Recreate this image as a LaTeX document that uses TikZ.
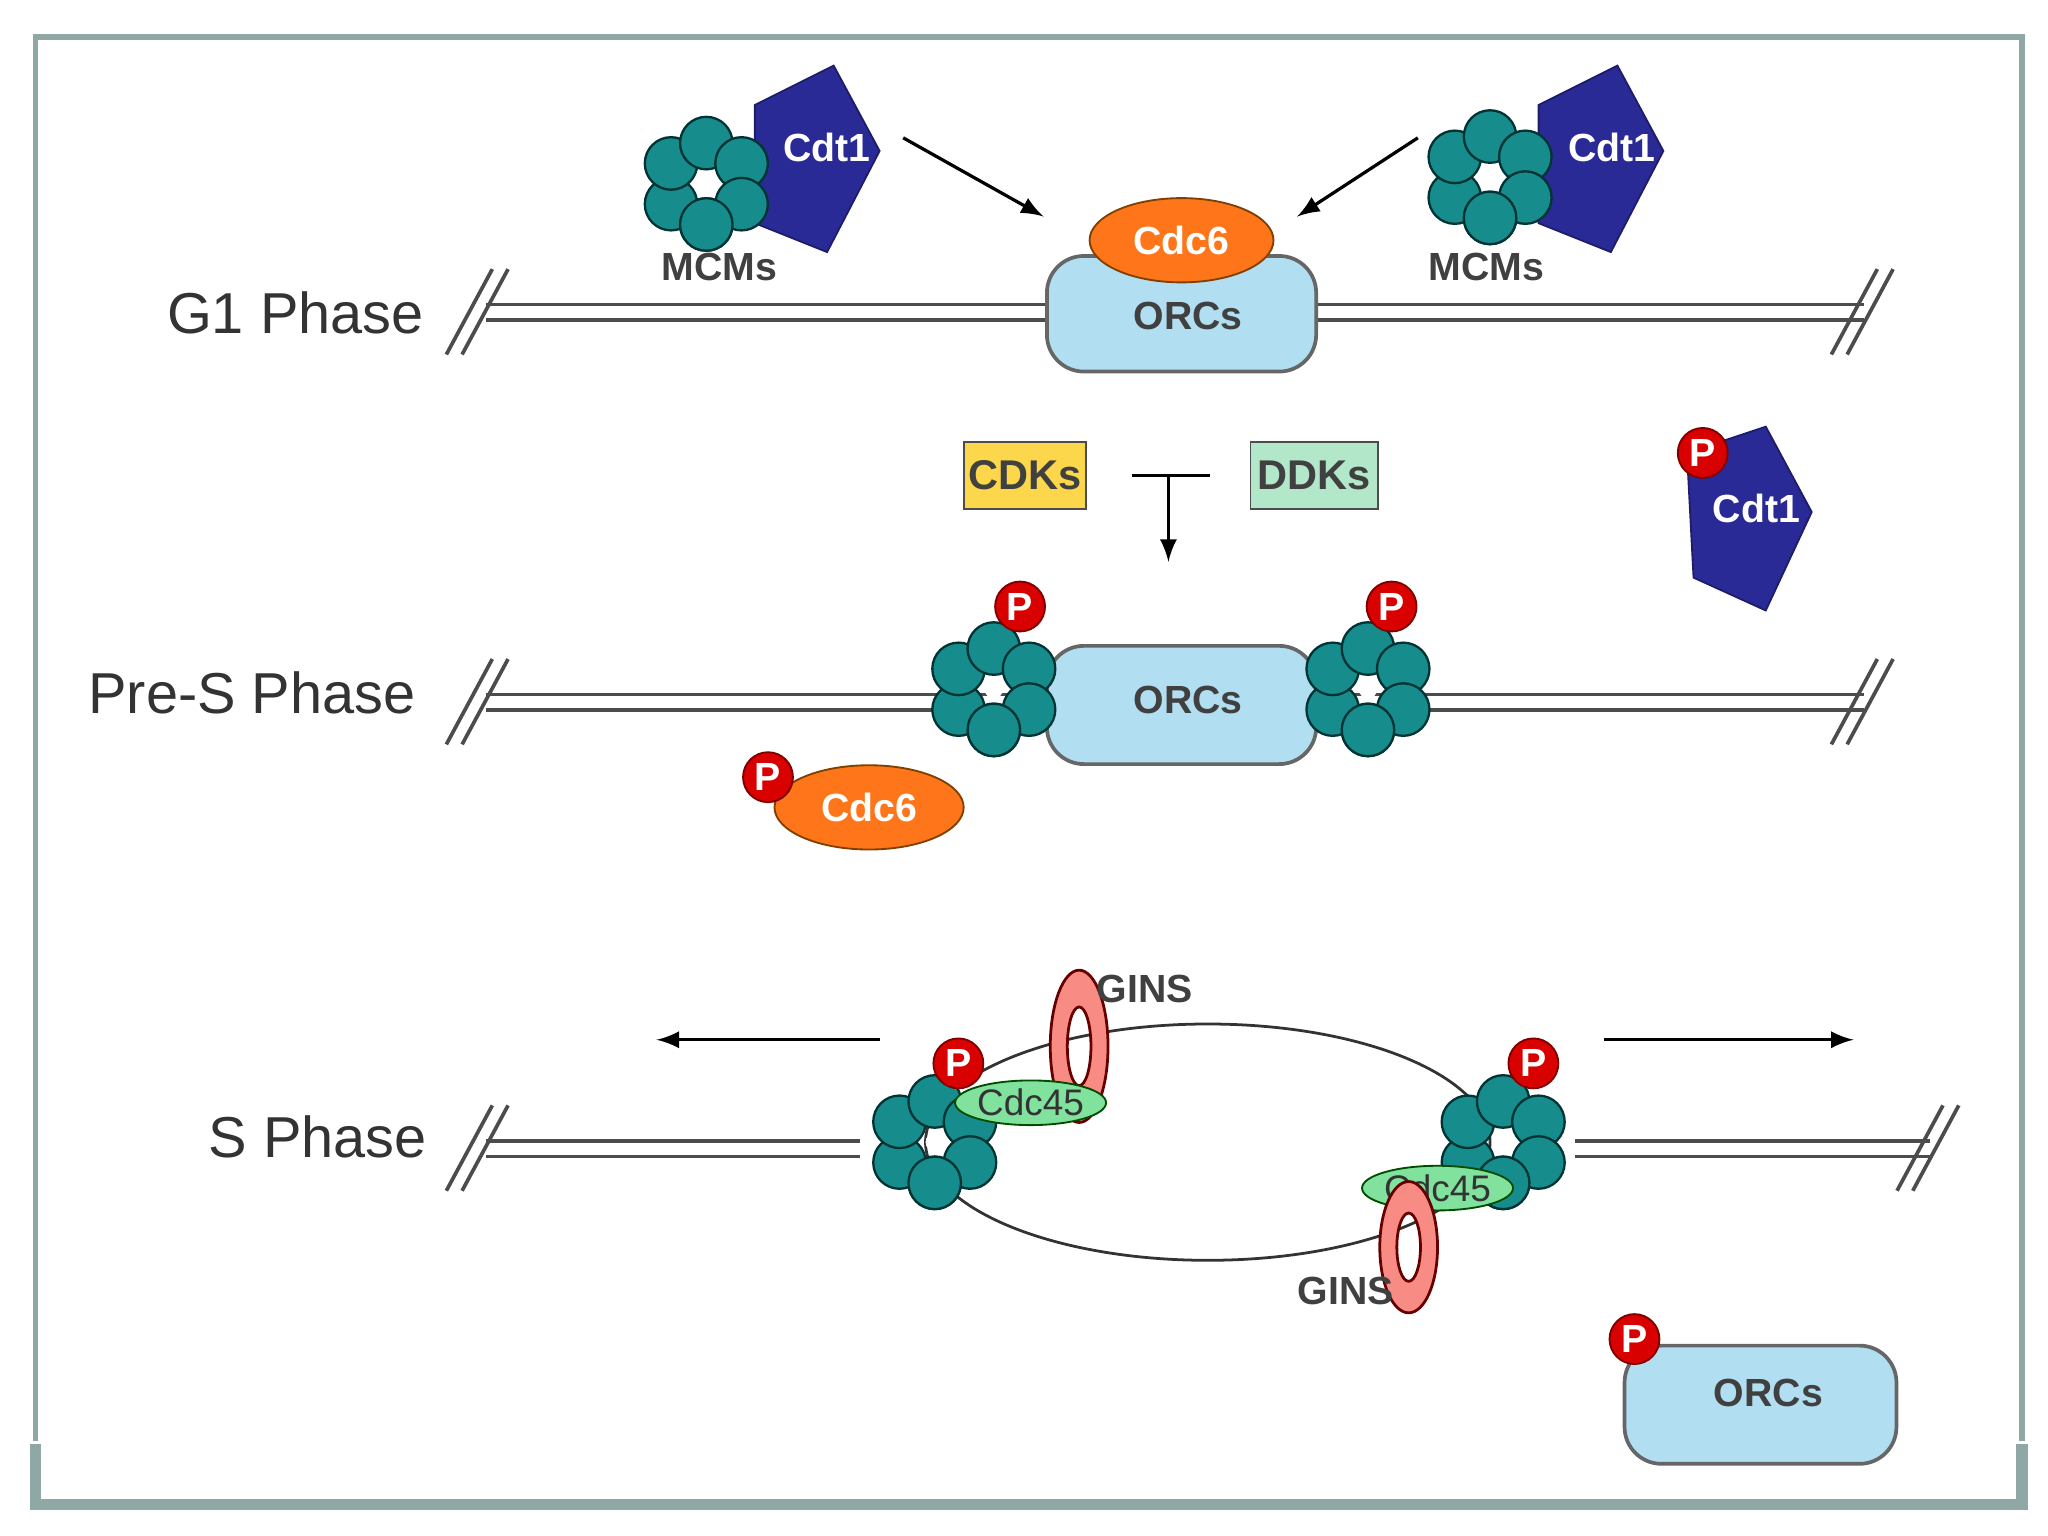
\documentclass[tikz,border=0pt]{standalone}
\usepackage{fontspec}
\setmainfont{Liberation Sans}
\usetikzlibrary{shapes.geometric}
\definecolor{mcmc}{HTML}{178C8C}
\definecolor{cdtc}{HTML}{2A2A96}
\definecolor{frm}{HTML}{8FA8A6}
\begin{document}
\begin{tikzpicture}[x=0.01cm,y=-0.01cm,
  dna/.style={double=white,draw=black!70,line width=0.7pt,double distance=2.6pt},
  sl/.style={black!70,line width=0.8pt},
  orc/.style={draw=black!60,fill=cyan!25!white!90!teal,rounded corners=8pt,line width=0.8pt},
  lab/.style={font=\fontsize{8.5}{10}\selectfont\bfseries,text=black!75},
  phase/.style={font=\fontsize{12.5}{15}\selectfont,text=black!80},
  ptag/.style={circle,fill=red!85!black,draw=red!50!black,minimum size=0.38cm,inner sep=0pt,font=\fontsize{8.5}{10}\selectfont\bfseries,text=white},
  cdt/.style={fill=cdtc,draw=cdtc!70!black},
  wt/.style={font=\fontsize{8.5}{10}\selectfont\bfseries,text=white},
  c45/.style={ellipse,fill=green!55!teal!50!white,draw=green!30!black,minimum width=0.95cm,minimum height=0.34cm,inner sep=0pt,font=\fontsize{8}{10}\selectfont,text=black!80},
  arr/.style={-latex,line width=0.7pt},
  pics/mcm/.style={code={
    \foreach \a in {90,150,...,450}{\draw[fill=mcmc,draw=teal!40!black,line width=0.5pt] (\a:31) circle[radius=20];}
    \fill[white] (0,0) circle[radius=7];}}]
\useasboundingbox (0,0) rectangle (1560,1170);
% frame
\draw[draw=frm,line width=1.2pt] (27,1098) -- (27,28) -- (1540,28) -- (1540,1098);
\draw[draw=frm,line width=2.5pt] (27,1100) -- (27,1146) -- (1540,1146) -- (1540,1100);
% ===== G1 =====
\node[phase] (g1) at (225,238) {G1 Phase};
\draw[dna] (370,238) -- (1420,238);
\foreach \x in {340,352}{\draw[sl] (\x,270) -- (\x+35,205);}
\foreach \x in {1395,1407}{\draw[sl] (\x,270) -- (\x+35,205);}
\node[orc,minimum width=2.05cm,minimum height=0.88cm] (orc1) at (900,239) {};
\node[lab] at (905,241) {ORCs};
\node[ellipse,fill=orange!80!red!90,draw=orange!50!black,minimum width=1.4cm,minimum height=0.6cm,wt] (cdc6a) at (900,183) {Cdc6};
\draw[cdt] (575,80) -- (635,50) -- (670,115) -- (630,192) -- (575,170) -- cycle;
\pic at (538,140) {mcm};
\node[wt] (cdt1a) at (630,112) {Cdt1};
\node[lab] (mcma) at (548,203) {MCMs};
\draw[cdt] (1172,80) -- (1232,50) -- (1267,115) -- (1227,192) -- (1172,170) -- cycle;
\pic at (1135,135) {mcm};
\node[wt] (cdt1b) at (1228,112) {Cdt1};
\node[lab] (mcmb) at (1132,203) {MCMs};
\coordinate (a1s) at (688,105); \coordinate (a1e) at (795,165);
\coordinate (a2s) at (1080,105); \coordinate (a2e) at (988,165);
\draw[arr] (a1s) -- (a1e);
\draw[arr] (a2s) -- (a2e);
% ===== kinases =====
\node[draw=black!70,fill=yellow!60!orange!70,minimum width=0.93cm,minimum height=0.51cm,inner sep=0pt,font=\fontsize{9}{10}\selectfont\bfseries,text=black!75] (cdk) at (781,362) {CDKs};
\node[draw=black!70,fill=green!40!teal!30!white,minimum width=0.97cm,minimum height=0.51cm,inner sep=0pt,font=\fontsize{9}{10}\selectfont\bfseries,text=black!75] (ddk) at (1001,362) {DDKs};
\coordinate (tl) at (862,362); \coordinate (tr) at (922,362); \coordinate (tm) at (890,362); \coordinate (te) at (890,428);
\draw[line width=0.7pt] (tl) -- (tr);
\draw[arr] (tm) -- (te);
\draw[cdt] (1285,345) -- (1345,325) -- (1380,390) -- (1345,465) -- (1290,440) -- cycle;
\node[wt] (cdt1c) at (1338,387) {Cdt1};
\node[ptag] (p1) at (1297,345) {P};
% ===== Pre-S =====
\node[phase] (pres) at (192,528) {Pre-S Phase};
\draw[dna] (370,535) -- (1420,535);
\foreach \x in {340,352}{\draw[sl] (\x,567) -- (\x+35,502);}
\foreach \x in {1395,1407}{\draw[sl] (\x,567) -- (\x+35,502);}
\node[orc,minimum width=2.05cm,minimum height=0.9cm] (orc2) at (900,537) {};
\node[lab] at (905,533) {ORCs};
\pic at (757,525) {mcm};
\pic at (1042,525) {mcm};
\node[ptag] at (777,462) {P};
\node[ptag] at (1060,462) {P};
\node[ellipse,fill=orange!80!red!90,draw=orange!50!black,minimum width=1.44cm,minimum height=0.64cm,wt] (cdc6b) at (662,615) {Cdc6};
\node[ptag] at (585,592) {P};
% ===== S =====
\node[phase] (sph) at (242,866) {S Phase};
\draw[dna] (370,875) -- (655,875);
\draw[dna] (1200,875) -- (1470,875);
\foreach \x in {340,352}{\draw[sl] (\x,907) -- (\x+35,842);}
\foreach \x in {1445,1457}{\draw[sl] (\x,907) -- (\x+35,842);}
\draw[black!80,line width=0.6pt] (920,870) ellipse[x radius=215,y radius=90];
\pic at (712,870) {mcm};
\pic at (1145,870) {mcm};
\draw[fill=red!45!white!90!brown,draw=red!40!black,line width=0.6pt,even odd rule] (822,797) ellipse[x radius=22,y radius=58] (822,797) ellipse[x radius=9,y radius=30];
\node[c45] (c45a) at (785,840) {Cdc45};
\node[ptag] at (730,810) {P};
\node[c45] (c45b) at (1095,905) {Cdc45};
\draw[fill=red!45!white!90!brown,draw=red!40!black,line width=0.6pt,even odd rule] (1073,950) ellipse[x radius=22,y radius=50] (1073,950) ellipse[x radius=9,y radius=26];
\node[ptag] at (1168,810) {P};
\node[lab] (ginsa) at (872,753) {GINS};
\node[lab] (ginsb) at (1025,983) {GINS};
\coordinate (l1) at (670,792); \coordinate (l2) at (500,792);
\coordinate (r1) at (1222,792); \coordinate (r2) at (1412,792);
\draw[arr] (l1) -- (l2);
\draw[arr] (r1) -- (r2);
\node[orc,minimum width=2.07cm,minimum height=0.9cm] (orc3) at (1341,1070) {};
\node[lab] at (1347,1061) {ORCs};
\node[ptag] at (1245,1020) {P};
\end{tikzpicture}
\end{document}
